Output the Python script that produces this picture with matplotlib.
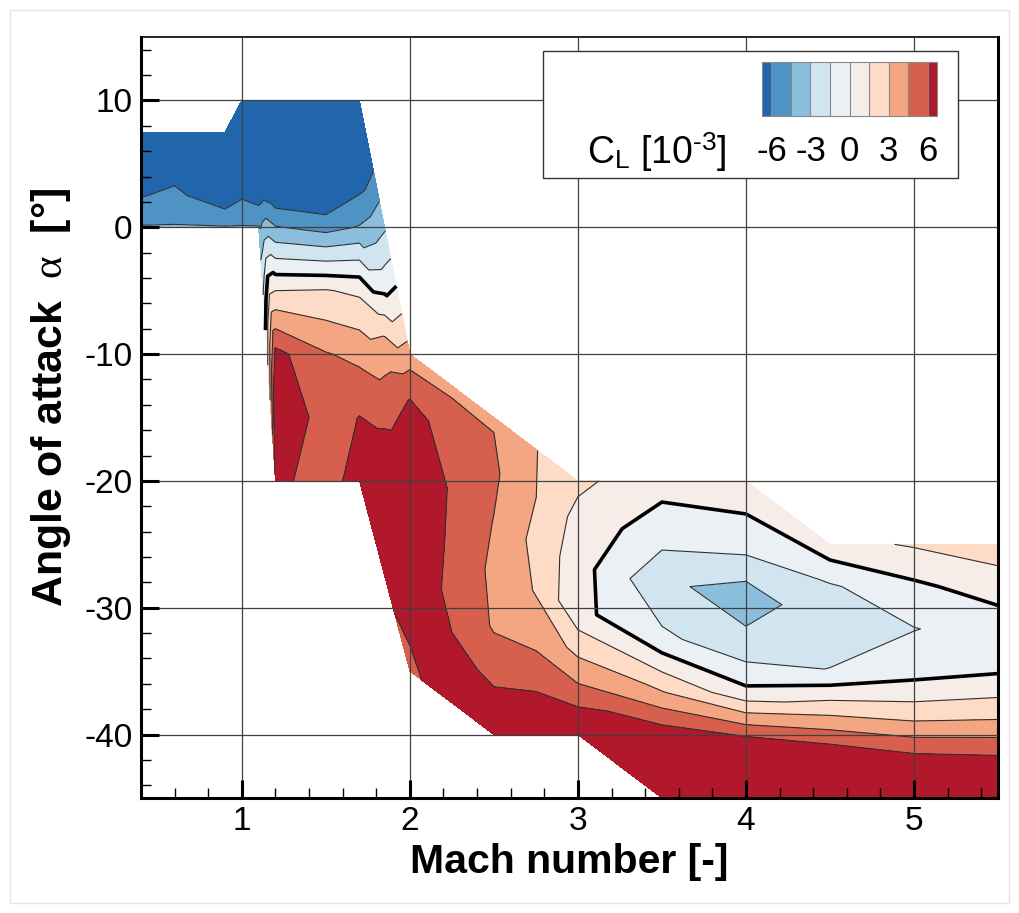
import numpy as np
import matplotlib
matplotlib.use('Agg')
import matplotlib.pyplot as plt
from matplotlib.patches import Rectangle
from matplotlib.ticker import MultipleLocator, FixedLocator

plt.rcParams['font.family'] = ['Liberation Sans', 'DejaVu Sans']
plt.rcParams['axes.unicode_minus'] = False
plt.rcParams['mathtext.fontset'] = 'custom'
plt.rcParams['mathtext.rm'] = 'Liberation Sans'
plt.rcParams['mathtext.bf'] = 'Liberation Sans:bold'
plt.rcParams['mathtext.it'] = 'Liberation Serif'
plt.rcParams['contour.negative_linestyle'] = 'solid'

# ---------------- data ----------------
# Mach columns of the (structured) measurement grid
mach = [0.4, 0.6, 0.9, 1.0, 1.1, 1.2, 1.5, 1.7, 1.85, 2.0, 2.25, 2.5, 2.75,
        3.0, 3.5, 4.0, 4.5, 5.0, 5.5]
# angle-of-attack range covered by each Mach column
alpha_min = [0, 0, 0, 0, 0, -20, -20, -20, -27.5, -35, -37.5, -40, -40,
             -40, -45, -45, -45, -45, -45]
alpha_max = [7.5, 7.5, 7.5, 10, 10, 10, 10, 10, 0, -10, -12.5, -15, -17.5,
             -20, -20, -20, -25, -25, -25]

# C_L [1e-3] along each column, from alpha_min (first) to alpha_max (last)
cl_m040 = [-4.4, -5.2, -6.1, -7.0, -7.8, -8.7, -9.5]
cl_m060 = [-4.4, -4.95, -5.6, -6.25, -6.9, -7.6, -8.3]
cl_m090 = [-4.4, -5.8, -7.2, -8.5, -9.8, -11.0, -12.0]
cl_m100 = [-4.4, -5.6, -6.8, -8.0, -9.2, -10.4, -11.5]
cl_m110 = [-4.4, -5.95, -7.6, -9.0, -10.0, -11.0, -12.0]
cl_m120 = [6.45, 7.6, 6.5, 1.5, -4.4, -9.7, -13.0]
cl_m150 = [5.2, 5.2, 4.6, 1.6, -5.06, -9.8, -13.0]
cl_m170 = [6.8, 6.05, 4.1, 1.2, -4.4, -7.5, -9.5]
cl_m185 = [6.5, 7.3, 6.8, 5.3, 3.5, -0.6, -3.2]
cl_m200 = [5.24, 6.8, 7.8, 8.0, 7.6, 6.4, 3.7]
cl_m225 = [7.9, 6.3, 5.4, 5.6, 5.8, 5.5, 4.2]
cl_m250 = [7.9, 5.8, 4.4, 4.2, 4.45, 4.75, 4.4]
cl_m275 = [7.9, 5.8, 4.1, 2.9, 2.55, 3.02, 3.05]
cl_m300 = [7.9, 5.0, 2.6, 0.3, 0.7, 1.0, 1.8]
cl_m350 = [8.5, 7.8, 3.1, -1.05, -2.85, -0.9, 0.6]
cl_m400 = [8.5, 7.1, 0.4, -2.9, -3.3, -0.3, 0.5]
cl_m450 = [8.5, 7.2, 2.8, -1.4, -2.6, -1.7, 1.0]
cl_m500 = [8.5, 6.2, 2.3, -0.6, -1.55, -0.3, 1.65]
cl_m550 = [8.0, 6.02, 2.5, -0.15, -0.9, 0.72, 2.3]
cl_columns = [cl_m040, cl_m060, cl_m090, cl_m100, cl_m110, cl_m120, cl_m150,
              cl_m170, cl_m185, cl_m200, cl_m225, cl_m250, cl_m275, cl_m300,
              cl_m350, cl_m400, cl_m450, cl_m500, cl_m550]

levels = [-6, -4.5, -3, -1.5, 0, 1.5, 3, 4.5, 6]
band_colors = ['#2166ac', '#4f93c5', '#8bbedc', '#d1e5f0', '#ebf0f4',
               '#f7ede8', '#fddbc7', '#f4a582', '#d6604d', '#b2182b']
legend_ticks = [-6, -3, 0, 3, 6]
legend_labels = ['-6', '-3', '0', '3', '6']
x_ticks = [1, 2, 3, 4, 5]
y_ticks = [10, 0, -10, -20, -30, -40]

# ---------------- grid ----------------
n_pts = len(cl_m040)
X = np.array([np.full(n_pts, m) for m in mach]).T
Y = np.array([np.linspace(lo, hi, n_pts) for lo, hi in zip(alpha_min, alpha_max)]).T
Z = np.array(cl_columns, dtype=float).T

W, H = 1019, 913
fig = plt.figure(figsize=(W / 100, H / 100), dpi=100)
ax = fig.add_axes([141 / W, 1 - 798 / H, (998 - 141) / W, (798 - 37) / H])

cf = ax.contourf(X, Y, Z, levels=levels, colors=band_colors, extend='both', zorder=1)
ax.contour(X, Y, Z, levels=[l for l in levels if l != 0], colors='#303030',
           linewidths=0.8, linestyles='solid', zorder=2)
ax.contour(X, Y, Z, levels=[0], colors='black', linewidths=2.6, linestyles='solid', zorder=2)

ax.set_xlim(0.4, 5.5)
ax.set_ylim(-45, 15)
ax.xaxis.set_major_locator(FixedLocator(x_ticks))
ax.yaxis.set_major_locator(FixedLocator(y_ticks))
ax.xaxis.set_minor_locator(MultipleLocator(0.2))
ax.yaxis.set_minor_locator(MultipleLocator(2))
ax.set_axisbelow(False)
ax.grid(True, which='major', color='#404040', linewidth=0.9, zorder=3)
ax.tick_params(which='major', direction='in', length=13, width=2.2, labelsize=24,
               pad=6, top=False, right=False)
ax.tick_params(which='minor', direction='in', length=7, width=1.0, top=False, right=False)
for side in ['left', 'bottom', 'right']:
    ax.spines[side].set_linewidth(2.2)
ax.spines['top'].set_linewidth(1.2)

ax.set_xlabel('Mach number [-]', fontsize=29.5, fontweight='bold', labelpad=4)
ax.set_ylabel(r'$\mathbf{Angle\ of\ attack}\ \ \alpha\ \ \mathbf{[°]}$', fontsize=31,
              labelpad=8)
ax.yaxis.label.set_y(0.527)

# legend box
ax.add_patch(Rectangle((0.469, 0.815), 0.484, 0.166, transform=ax.transAxes,
                       facecolor='white', edgecolor='#333333', linewidth=1.0, zorder=5))

cax = fig.add_axes([761.7 / W, 1 - 116 / H, 175.6 / W, 53.7 / H])
cb = fig.colorbar(cf, cax=cax, orientation='horizontal', extend='both', extendrect=True,
                  extendfrac=0.0625, drawedges=True)
cb.set_ticks(legend_ticks)
cb.set_ticklabels(legend_labels)
cb.outline.set_edgecolor('#888888')
cb.outline.set_linewidth(0.8)
cb.dividers.set_color('#888888')
cb.dividers.set_linewidth(0.8)
cax.tick_params(length=0, labelsize=25, pad=14)

fig.text(727 / W, 1 - 152 / H, r'C$_\mathrm{L}$ [10$^\text{-3}$]', ha='right', va='center',
         fontsize=27)

fig.patches.append(Rectangle((10 / W, 10 / H), 999 / W, 893 / H, transform=fig.transFigure,
                             fill=False, edgecolor='#e4e4e4', linewidth=1.0))

fig.savefig('out.png', dpi=100)
